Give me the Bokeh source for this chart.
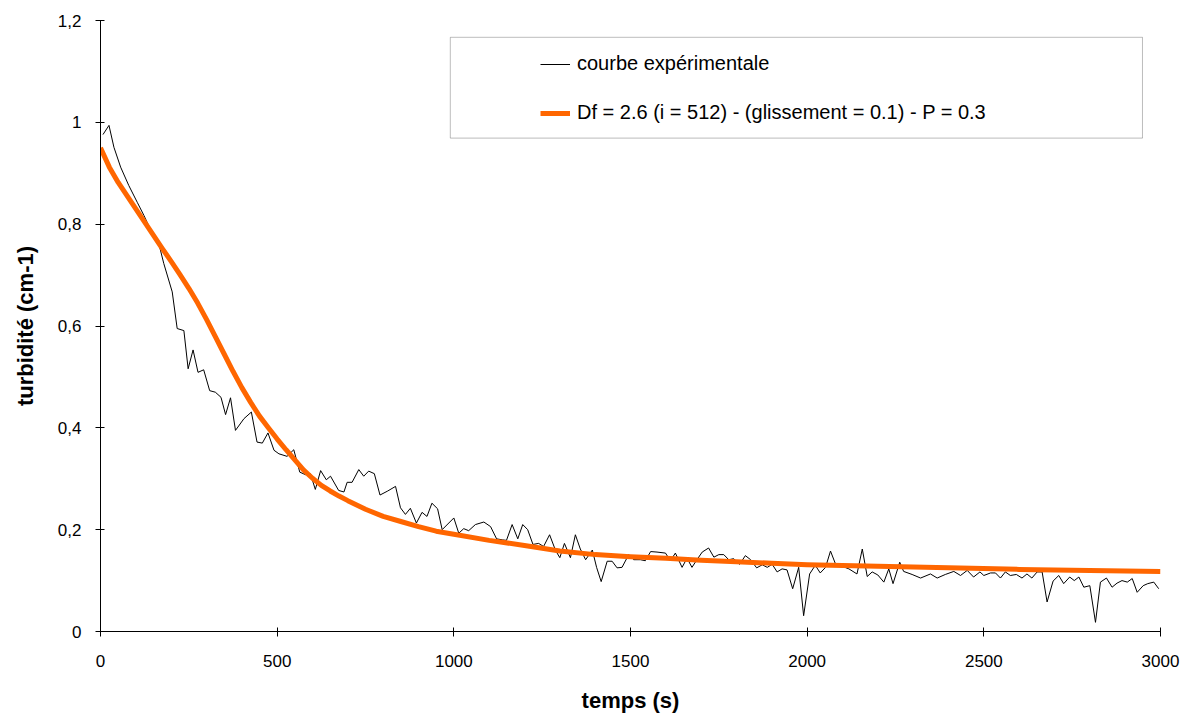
from bokeh.plotting import figure
from bokeh.models import Range1d, FixedTicker, Legend, LegendItem, BoxAnnotation, CustomJSTickFormatter
from bokeh.embed import file_html
from bokeh.resources import INLINE

# experimental curve (time s, turbidity cm-1)
exp_t = [7, 24, 38, 57, 80, 104, 123, 141, 165, 179, 203, 217, 236, 248, 262, 276, 292, 309, 325, 341,
         354, 368, 382, 406, 427, 443, 458, 474, 491, 505, 528, 547, 564, 580, 594, 608, 623, 639, 651, 674,
         689, 698, 712, 731, 745, 759, 775, 791, 813, 835, 849, 863, 877, 894, 910, 924, 938, 954, 967, 1000,
         1014, 1028, 1042, 1061, 1085, 1104, 1121, 1137, 1149, 1165, 1181, 1195, 1209, 1224, 1240, 1254, 1271,
         1288, 1300, 1313, 1330, 1344, 1358, 1373, 1392, 1404, 1417, 1434, 1448, 1462, 1476, 1495, 1509, 1528,
         1542, 1557, 1575, 1599, 1613, 1627, 1646, 1660, 1674, 1688, 1703, 1721, 1736, 1750, 1764, 1778, 1792,
         1809, 1825, 1840, 1857, 1873, 1887, 1901, 1915, 1929, 1943, 1959, 1976, 1990, 2007, 2023, 2037, 2052,
         2066, 2080, 2099, 2118, 2141, 2156, 2170, 2184, 2200, 2217, 2231, 2243, 2262, 2273, 2297, 2321, 2349,
         2368, 2391, 2415, 2434, 2453, 2471, 2489, 2500, 2519, 2533, 2547, 2561, 2575, 2592, 2608, 2622, 2636,
         2651, 2665, 2679, 2696, 2712, 2726, 2743, 2756, 2769, 2783, 2800, 2816, 2830, 2847, 2863, 2877, 2891,
         2906, 2920, 2934, 2951, 2964, 2981, 2995]
exp_y = [0.976, 0.994, 0.951, 0.912, 0.876, 0.843, 0.817, 0.79, 0.762, 0.723, 0.667, 0.595, 0.591, 0.516,
         0.553, 0.509, 0.514, 0.473, 0.47, 0.460, 0.426, 0.459, 0.395, 0.418, 0.431, 0.372, 0.37, 0.39, 0.356,
         0.349, 0.344, 0.357, 0.313, 0.308, 0.31, 0.279, 0.316, 0.298, 0.305, 0.277, 0.274, 0.293, 0.293, 0.318,
         0.305, 0.315, 0.31, 0.268, 0.276, 0.285, 0.243, 0.23, 0.242, 0.213, 0.234, 0.226, 0.252, 0.241, 0.2,
         0.223, 0.193, 0.202, 0.198, 0.21, 0.215, 0.206, 0.182, 0.18, 0.179, 0.21, 0.182, 0.21, 0.2, 0.171,
         0.173, 0.167, 0.19, 0.159, 0.145, 0.173, 0.145, 0.19, 0.162, 0.141, 0.16, 0.126, 0.098, 0.138, 0.138,
         0.125, 0.126, 0.151, 0.141, 0.141, 0.139, 0.157, 0.156, 0.154, 0.139, 0.154, 0.126, 0.144, 0.126,
         0.141, 0.156, 0.164, 0.146, 0.151, 0.151, 0.141, 0.143, 0.132, 0.149, 0.141, 0.125, 0.131, 0.126,
         0.132, 0.117, 0.123, 0.121, 0.084, 0.126, 0.031, 0.113, 0.13, 0.115, 0.126, 0.158, 0.133, 0.128,
         0.123, 0.113, 0.162, 0.108, 0.117, 0.111, 0.097, 0.123, 0.094, 0.136, 0.118, 0.112, 0.105, 0.113,
         0.105, 0.112, 0.118, 0.11, 0.12, 0.107, 0.117, 0.11, 0.115, 0.115, 0.105, 0.117, 0.11, 0.112, 0.105,
         0.113, 0.105, 0.117, 0.117, 0.058, 0.099, 0.11, 0.094, 0.107, 0.1, 0.107, 0.087, 0.09, 0.018, 0.097,
         0.105, 0.087, 0.095, 0.1, 0.097, 0.104, 0.077, 0.09, 0.094, 0.097, 0.084]

# model curve
mod_t = [0, 25, 50, 75, 100, 125, 150, 175, 200, 225, 250, 275, 300, 325, 350, 375, 400, 425, 450, 475,
         500, 525, 550, 575, 600, 625, 650, 675, 700, 750, 800, 850, 900, 950,
         1000, 1100, 1200, 1300, 1400, 1500, 1600, 1700, 1800, 1900, 2000, 2200, 2400, 2600, 2800, 3000]
mod_y = [0.95, 0.912, 0.882, 0.856, 0.83, 0.804, 0.778, 0.752, 0.727, 0.701, 0.674, 0.645, 0.613, 0.579,
         0.545, 0.511, 0.479, 0.450, 0.423, 0.400, 0.378, 0.357, 0.337, 0.317, 0.301, 0.287, 0.276, 0.266,
         0.257, 0.240, 0.226, 0.216, 0.206, 0.197, 0.191, 0.179, 0.169, 0.158, 0.151, 0.147, 0.144, 0.140,
         0.137, 0.134, 0.131, 0.128, 0.125, 0.122, 0.120, 0.118]

x_ticks = [0, 500, 1000, 1500, 2000, 2500, 3000]
y_ticks = [0, 0.2, 0.4, 0.6, 0.8, 1.0, 1.2]
y_tick_labels = ["0", "0,2", "0,4", "0,6", "0,8", "1", "1,2"]

label_exp = "courbe expérimentale"
label_mod = "Df = 2.6 (i = 512) - (glissement = 0.1) - P = 0.3"

FONT = "Liberation Sans"

p = figure(width=1195, height=722, output_backend="svg", toolbar_location=None,
           x_range=Range1d(0, 3000), y_range=Range1d(0, 1.2),
           min_border_left=100, min_border_right=35, min_border_top=20, min_border_bottom=91)
p.outline_line_color = None
p.xgrid.visible = False
p.ygrid.visible = False
p.background_fill_color = "white"
p.border_fill_color = "white"

r_exp = p.line(exp_t, exp_y, line_color="black", line_width=1)
r_mod = p.line(mod_t, mod_y, line_color="#FF6600", line_width=5, line_join="round")

p.xaxis.ticker = FixedTicker(ticks=x_ticks)
p.yaxis.ticker = FixedTicker(ticks=y_ticks)
p.yaxis.formatter = CustomJSTickFormatter(args=dict(labels=y_tick_labels), code="return labels[index];")

for ax in (p.xaxis, p.yaxis):
    ax.axis_line_color = "black"
    ax.axis_line_width = 1
    ax.major_tick_line_color = "black"
    ax.major_tick_in = 4
    ax.major_tick_out = 5
    ax.minor_tick_line_color = None
    ax.major_label_text_font = FONT
    ax.major_label_text_font_size = "17px"
    ax.major_label_text_color = "black"
    ax.axis_label_text_font = FONT
    ax.axis_label_text_font_style = "bold"
    ax.axis_label_text_font_size = "22px"
    ax.axis_label_text_color = "black"

p.xaxis.axis_label = "temps (s)"
p.yaxis.axis_label = "turbidité (cm-1)"
p.xaxis.major_label_standoff = 18
p.yaxis.major_label_standoff = 14
p.xaxis.axis_label_standoff = 18
p.yaxis.axis_label_standoff = 17

frame = BoxAnnotation(left=990, right=2949, top=1.167, bottom=0.969,
                      fill_color="white", fill_alpha=1.0, line_color="#222222", line_width=1)
p.add_layout(frame)

legend = Legend(items=[LegendItem(label=label_exp, renderers=[r_exp]),
                       LegendItem(label=label_mod, renderers=[r_mod])],
                location=(440, 507), padding=10, spacing=26, label_height=20,
                glyph_width=30, glyph_height=20, label_standoff=7,
                border_line_color=None, background_fill_alpha=0.0,
                label_text_font=FONT, label_text_font_size="20px", label_text_color="black")
p.add_layout(legend)

open("out.html", "w").write(file_html(p, INLINE))
